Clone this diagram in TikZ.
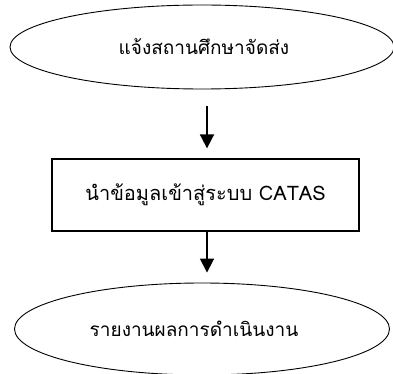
\documentclass[tikz,border=0pt]{standalone}
\usepackage{fontspec}
\newfontfamily\thaifont[Script=Thai]{Loma}
\usetikzlibrary{shapes.geometric,arrows.meta}

\begin{document}
\begin{tikzpicture}[x=1pt,y=-1pt,
    font=\thaifont\fontsize{20}{24}\selectfont,
    oval/.style={ellipse,draw,line width=0.9pt,inner sep=0pt,font=\thaifont\fontsize{19}{23}\selectfont},
    stepbox/.style={rectangle,draw,line width=1.3pt,inner sep=0pt},
    flow/.style={line width=1.8pt,-{Triangle[length=14pt,width=14pt]}}]
  \useasboundingbox (0,0) rectangle (393,374);
  % start, process, end
  \node[oval,minimum width=384pt,minimum height=84pt] (notify) at (202,47) {\hspace*{4pt}แจ้งสถานศึกษาจัดส่ง};
  \node[stepbox,minimum width=307pt,minimum height=72pt] (entry) at (205.5,195) {\raisebox{4pt}{นำข้อมูลเข้าสู่ระบบ CATAS}};
  \node[oval,minimum width=375pt,minimum height=92pt] (report) at (202,329) {\hspace*{-8pt}รายงานผลการดำเนินงาน\hspace*{8pt}};
  % arrows, a little right of the centre line
  \draw[flow,shorten <=17pt,shorten >=10pt]
    ([xshift=1.5pt]entry.north |- notify.south) -- ([xshift=1.5pt]entry.north);
  \draw[flow,shorten >=10pt]
    ([xshift=1.5pt]entry.south) -- ([xshift=1.5pt]entry.south |- report.north);
\end{tikzpicture}
\end{document}
